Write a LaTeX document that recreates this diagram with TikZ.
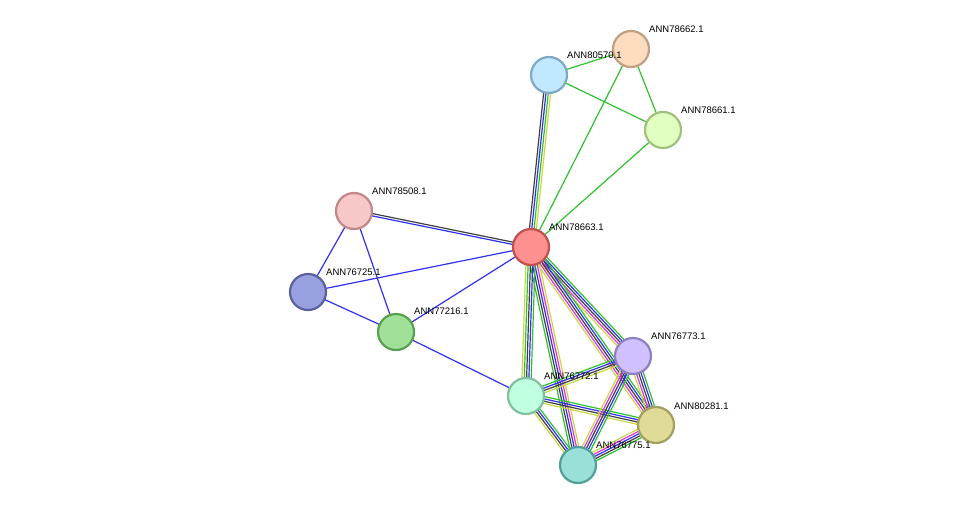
\documentclass[tikz,border=0pt]{standalone}
\usepackage{fontspec}
\setmainfont{Liberation Sans}
\usetikzlibrary{calc}
\definecolor{eg}{HTML}{30C030}
\definecolor{eb}{HTML}{3030F0}
\definecolor{ek}{HTML}{404040}
\definecolor{ey}{HTML}{C8D840}
\definecolor{em}{HTML}{E030E0}
\tikzset{
  prot/.style={circle,minimum size=36pt,inner sep=0pt,line width=2.2pt},
  lab/.style={anchor=south west,font=\fontsize{9.5pt}{10pt}\selectfont,inner sep=0pt},
  ed/.style={line width=1.2pt}
}
\newcommand{\medge}[3]{%
  \foreach \c [count=\i] in {#3} {\xdef\mn{\i}}%
  \foreach \c [count=\i] in {#3} {%
    \pgfmathsetmacro{\o}{(\i-(\mn+1)/2)*2.3}%
    \draw[ed,draw=\c] ($(#1)!\o pt!90:(#2)$) -- ($(#2)!\o pt!-90:(#1)$);}%
}
\begin{document}
\begin{tikzpicture}[x=1pt,y=-1pt]
\useasboundingbox (0,0) rectangle (976,511);
\coordinate (a) at (531,247);
\coordinate (b) at (549,75);
\coordinate (c) at (631,49);
\coordinate (d) at (663,130);
\coordinate (e) at (354,211);
\coordinate (f) at (308,292);
\coordinate (g) at (396,332);
\coordinate (h) at (633,356);
\coordinate (i) at (526,396);
\coordinate (j) at (656,425);
\coordinate (k) at (578,465);
\medge{a}{b}{ey,eg,eb,ek}
\medge{b}{c}{eg}
\medge{b}{d}{eg}
\medge{c}{d}{eg}
\medge{a}{c}{eg}
\medge{a}{d}{eg}
\medge{e}{a}{eb,ek}
\medge{e}{f}{eb}
\medge{e}{g}{eb}
\medge{f}{a}{eb}
\medge{f}{g}{eb}
\medge{g}{a}{eb}
\medge{g}{i}{eb}
\medge{a}{h}{ey,em,ek,eb,eg}
\medge{a}{j}{ey,em,ek,eb,eg}
\medge{a}{k}{eg,ek,eb,em,ey}
\medge{a}{i}{ey,eg,ek,eb,eg}
\medge{i}{h}{ey,ek,eb,eg}
\medge{i}{j}{ey,ek,eb,eg}
\medge{i}{k}{ey,ek,eb,eg}
\medge{h}{j}{ey,em,ek,eb,eg}
\medge{h}{k}{ey,em,ek,eb,eg}
\medge{j}{k}{ey,em,eb,ek,eg}
\node[prot,fill={rgb,255:red,255;green,144;blue,144},draw={rgb,255:red,192;green,80;blue,80}] (A) at (a) {};
\node[prot,fill={rgb,255:red,192;green,232;blue,255},draw={rgb,255:red,127;green,168;blue,200}] (B) at (b) {};
\node[prot,fill={rgb,255:red,253;green,220;blue,192},draw={rgb,255:red,192;green,160;blue,128}] (C) at (c) {};
\node[prot,fill={rgb,255:red,224;green,255;blue,192},draw={rgb,255:red,160;green,192;blue,128}] (D) at (d) {};
\node[prot,fill={rgb,255:red,248;green,200;blue,200},draw={rgb,255:red,192;green,136;blue,136}] (E) at (e) {};
\node[prot,fill={rgb,255:red,152;green,160;blue,224},draw={rgb,255:red,88;green,96;blue,160}] (F) at (f) {};
\node[prot,fill={rgb,255:red,160;green,224;blue,152},draw={rgb,255:red,88;green,160;blue,80}] (G) at (g) {};
\node[prot,fill={rgb,255:red,208;green,192;blue,255},draw={rgb,255:red,144;green,128;blue,192}] (H) at (h) {};
\node[prot,fill={rgb,255:red,192;green,255;blue,224},draw={rgb,255:red,128;green,192;blue,160}] (I) at (i) {};
\node[prot,fill={rgb,255:red,224;green,220;blue,152},draw={rgb,255:red,160;green,160;blue,96}] (J) at (j) {};
\node[prot,fill={rgb,255:red,152;green,224;blue,216},draw={rgb,255:red,80;green,160;blue,152}] (K) at (k) {};
\node[lab] (lA) at (549,231) {ANN78663.1};
\node[lab] (lB) at (567,59) {ANN80570.1};
\node[lab] (lC) at (649,33) {ANN78662.1};
\node[lab] (lD) at (681,114) {ANN78661.1};
\node[lab] (lE) at (372,195) {ANN78508.1};
\node[lab] (lF) at (326,276) {ANN76725.1};
\node[lab] (lG) at (414,315) {ANN77216.1};
\node[lab] (lH) at (651,340) {ANN76773.1};
\node[lab] (lI) at (544,380) {ANN76772.1};
\node[lab] (lJ) at (674,410) {ANN80281.1};
\node[lab] (lK) at (596,449) {ANN76775.1};
\end{tikzpicture}
\end{document}
